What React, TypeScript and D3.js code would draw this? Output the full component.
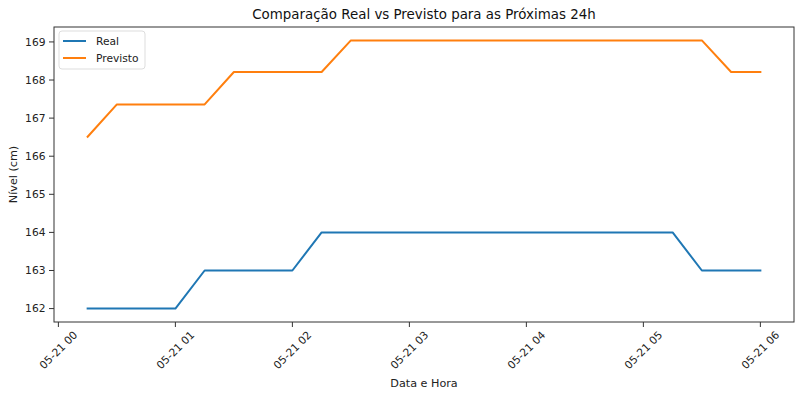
import React from "react";
import * as d3 from "d3";

const times = [
  "2024-05-21T00:15", "2024-05-21T00:30", "2024-05-21T00:45", "2024-05-21T01:00",
  "2024-05-21T01:15", "2024-05-21T01:30", "2024-05-21T01:45", "2024-05-21T02:00",
  "2024-05-21T02:15", "2024-05-21T02:30", "2024-05-21T02:45", "2024-05-21T03:00",
  "2024-05-21T03:15", "2024-05-21T03:30", "2024-05-21T03:45", "2024-05-21T04:00",
  "2024-05-21T04:15", "2024-05-21T04:30", "2024-05-21T04:45", "2024-05-21T05:00",
  "2024-05-21T05:15", "2024-05-21T05:30", "2024-05-21T05:45", "2024-05-21T06:00",
];
const real = [162, 162, 162, 162, 163, 163, 163, 163, 164, 164, 164, 164, 164, 164, 164, 164, 164, 164, 164, 164, 164, 163, 163, 163];
const previsto = [166.51, 167.36, 167.36, 167.36, 167.36, 168.21, 168.21, 168.21, 168.21, 169.04, 169.04, 169.04, 169.04, 169.04, 169.04, 169.04, 169.04, 169.04, 169.04, 169.04, 169.04, 169.04, 168.21, 168.21];
const yTicks = [162, 163, 164, 165, 166, 167, 168, 169];
const xTickTimes = ["2024-05-21T00:00", "2024-05-21T01:00", "2024-05-21T02:00", "2024-05-21T03:00", "2024-05-21T04:00", "2024-05-21T05:00", "2024-05-21T06:00"];
const seriesNames = ["Real", "Previsto"];
const colors = ["#1f77b4", "#ff7f0e"];

const W = 801, H = 397;
const m = { left: 54, right: 794, top: 27, bottom: 322 };
const FONT = "DejaVu Sans, sans-serif";

export default function App() {
  const dates = times.map((t) => new Date(t));
  const tMin = +dates[0], tMax = +dates[dates.length - 1];
  const tPad = (tMax - tMin) * 0.05;
  const x = d3.scaleTime().domain([new Date(tMin - tPad), new Date(tMax + tPad)]).range([m.left, m.right]);
  const all = [...real, ...previsto];
  const vMin = d3.min(all)!, vMax = d3.max(all)!;
  const vPad = (vMax - vMin) * 0.05;
  const y = d3.scaleLinear().domain([vMin - vPad, vMax + vPad]).range([m.bottom, m.top]);
  const fmt = d3.timeFormat("%m-%d %H");
  const line = d3.line<number>().x((_, i) => x(dates[i])).y((v) => y(v));
  const series = [real, previsto];

  return (
    <svg width={W} height={H} style={{ position: "absolute", left: 0, top: 0, background: "#fff" }} fontFamily={FONT}>
      <rect x={0} y={0} width={W} height={H} fill="#fff" />
      {series.map((s, i) => (
        <path key={i} d={line(s)!} fill="none" stroke={colors[i]} strokeWidth={2} strokeLinejoin="round" strokeLinecap="square" />
      ))}
      <rect x={m.left} y={m.top} width={m.right - m.left} height={m.bottom - m.top} fill="none" stroke="#333" strokeWidth={1} />
      {yTicks.map((t) => (
        <g key={t} transform={`translate(0,${y(t)})`}>
          <line x1={m.left - 5} x2={m.left} stroke="#333" />
          <text x={m.left - 8.5} dy="0.35em" textAnchor="end" fontSize={10.7} fill="#222">{t}</text>
        </g>
      ))}
      {xTickTimes.map((t) => {
        const d = new Date(t);
        const px = x(d);
        return (
          <g key={t}>
            <line x1={px} x2={px} y1={m.bottom} y2={m.bottom + 5} stroke="#333" />
            <text transform={`translate(${px},${m.bottom + 28}) rotate(-45)`} textAnchor="middle" dy="0.35em" fontSize={10.7} fill="#222">{fmt(d)}</text>
          </g>
        );
      })}
      <text x={(m.left + m.right) / 2} y={387} textAnchor="middle" fontSize={11.2} fill="#222">Data e Hora</text>
      <text transform={`translate(17,${(m.top + m.bottom) / 2}) rotate(-90)`} textAnchor="middle" fontSize={11.2} fill="#222">Nível (cm)</text>
      <text x={(m.left + m.right) / 2} y={19} textAnchor="middle" fontSize={13.4} fill="#111">Comparação Real vs Previsto para as Próximas 24h</text>
      <g>
        <rect x={59} y={31} width={86} height={38} rx={3} fill="#fff" fillOpacity={0.8} stroke="#ddd" />
        {seriesNames.map((n, i) => (
          <g key={n} transform={`translate(0,${41 + i * 17})`}>
            <line x1={63} x2={86} stroke={colors[i]} strokeWidth={2} />
            <text x={96} dy="0.35em" fontSize={10.7} fill="#222">{n}</text>
          </g>
        ))}
      </g>
    </svg>
  );
}
